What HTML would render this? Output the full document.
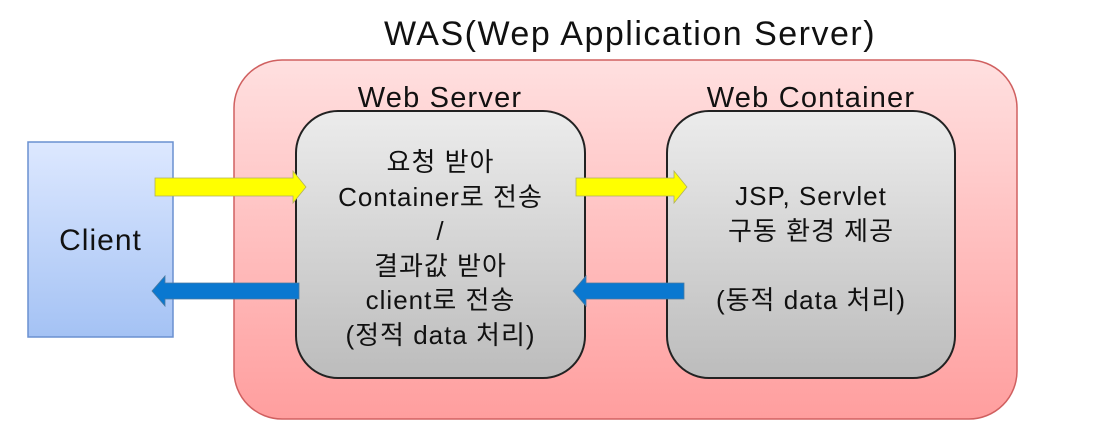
<!DOCTYPE html>
<html><head><meta charset="utf-8"><style>
body{margin:0;width:1100px;height:441px;background:#fff;overflow:hidden;position:relative;font-family:"Liberation Sans","Noto Sans CJK KR",sans-serif;color:#111}
.t{position:absolute;text-align:center;white-space:nowrap}
</style></head><body>
<svg width="1100" height="441" style="position:absolute;left:0;top:0">
<defs>
<linearGradient id="r" x1="0" y1="0" x2="0" y2="1"><stop offset="0" stop-color="#ffe0e0"/><stop offset="1" stop-color="#ff9e9e"/></linearGradient>
<linearGradient id="g" x1="0" y1="0" x2="0" y2="1"><stop offset="0" stop-color="#ececec"/><stop offset="1" stop-color="#bcbcbc"/></linearGradient>
<linearGradient id="b" x1="0" y1="0" x2="0" y2="1"><stop offset="0" stop-color="#dde8ff"/><stop offset="1" stop-color="#a4c2f4"/></linearGradient>
</defs>
<rect x="234" y="60" width="783" height="359" rx="48" fill="url(#r)" stroke="#d06060" stroke-width="1.5"/>
<rect x="28" y="142" width="145" height="195" fill="url(#b)" stroke="#6a90d0" stroke-width="1.5"/>
<rect x="296" y="111" width="289" height="267" rx="42" fill="url(#g)" stroke="#222" stroke-width="2"/>
<rect x="667" y="111" width="288" height="267" rx="42" fill="url(#g)" stroke="#222" stroke-width="2"/>
<polygon points="155,178 293,178 293,171 306,187 293,203 293,196 155,196" fill="#ffff00" stroke="#b0b060" stroke-width="0.8"/>
<polygon points="576,178 674,178 674,171 687,187 674,203 674,196 576,196" fill="#ffff00" stroke="#b0b060" stroke-width="0.8"/>
<polygon points="299,283 165,283 165,276 152,291 165,306 165,299 299,299" fill="#0a78d0" stroke="#4a7aa0" stroke-width="0.8"/>
<polygon points="684,283 586,283 586,276 573,291 586,306 586,299 684,299" fill="#0a78d0" stroke="#4a7aa0" stroke-width="0.8"/>
</svg>
<div class="t" style="left:280px;width:700px;top:15px;font-size:34px;letter-spacing:1.5px">WAS(Wep Application Server)</div>
<div class="t" style="left:290px;width:300px;top:82px;font-size:29px;letter-spacing:1.2px">Web Server</div>
<div class="t" style="left:661px;width:300px;top:82px;font-size:29px;letter-spacing:1.2px">Web Container</div>
<div class="t" style="left:28px;width:145px;top:224px;font-size:30px;letter-spacing:1px">Client</div>
<div class="t" style="left:266px;width:349px;top:145px;font-size:26px;line-height:34.5px;letter-spacing:1px">요청 받아<br>Container로 전송<br>/<br>결과값 받아<br>client로 전송<br>(정적 data 처리)</div>
<div class="t" style="left:637px;width:348px;top:179px;font-size:26px;line-height:34.5px;letter-spacing:1px">JSP, Servlet<br>구동 환경 제공<br>&nbsp;<br>(동적 data 처리)</div>
</body></html>
